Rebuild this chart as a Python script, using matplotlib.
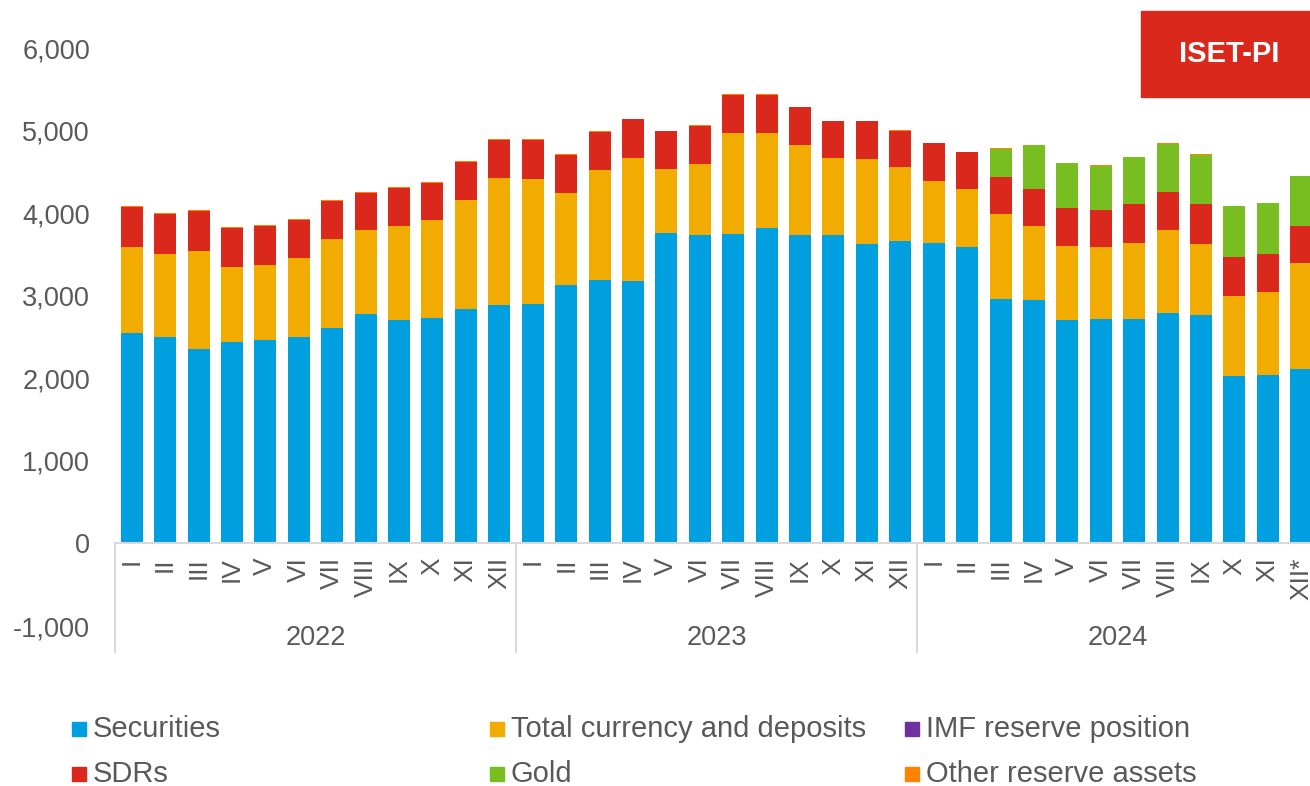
import matplotlib
matplotlib.use('Agg')
import matplotlib.pyplot as plt
from matplotlib.patches import Rectangle

# data (USD mn)
months = ['I', 'II', 'III', 'IV', 'V', 'VI', 'VII', 'VIII', 'IX', 'X', 'XI', 'XII',
          'I', 'II', 'III', 'IV', 'V', 'VI', 'VII', 'VIII', 'IX', 'X', 'XI', 'XII',
          'I', 'II', 'III', 'IV', 'V', 'VI', 'VII', 'VIII', 'IX', 'X', 'XI', 'XII*']
years = ['2022', '2023', '2024']

securities = [2550, 2500, 2355, 2440, 2465, 2505, 2610, 2775, 2705, 2735, 2840, 2890,
              2900, 3135, 3190, 3175, 3765, 3740, 3750, 3825, 3740, 3740, 3630, 3660,
              3640, 3590, 2960, 2950, 2710, 2720, 2720, 2795, 2770, 2030, 2035, 2115]
currency_deposits = [1035, 1010, 1185, 910, 905, 950, 1075, 1020, 1145, 1185, 1320, 1540,
                     1515, 1110, 1335, 1495, 775, 855, 1215, 1150, 1080, 925, 1025, 895,
                     745, 700, 1035, 890, 890, 865, 920, 995, 860, 965, 1015, 1280]
imf_position = [0, 0, 0, 0, 0, 0, 0, 0, 0, 0, 0, 0,
                0, 0, 0, 0, 0, 0, 0, 0, 0, 0, 0, 0,
                0, 0, 0, 0, 0, 0, 0, 0, 0, 0, 0, 0]
sdrs = [490, 485, 480, 470, 475, 460, 465, 455, 455, 450, 465, 460,
        470, 465, 460, 465, 455, 465, 470, 460, 460, 450, 460, 445,
        465, 450, 445, 450, 465, 455, 470, 470, 475, 470, 460, 450]
gold = [0, 0, 0, 0, 0, 0, 0, 0, 0, 0, 0, 0,
        0, 0, 0, 0, 0, 0, 0, 0, 0, 0, 0, 0,
        0, 0, 340, 530, 540, 535, 565, 580, 605, 625, 610, 600]
other_assets = [10, 10, 15, 10, 10, 15, 10, 10, 10, 10, 10, 10,
                10, 10, 10, 10, 5, 5, 5, 5, 5, 5, 5, 5,
                5, 5, 5, 5, 5, 5, 5, 5, 5, 0, 0, 0]

series = [securities, currency_deposits, imf_position, sdrs, gold, other_assets]
labels = ['Securities', 'Total currency and deposits', 'IMF reserve position',
          'SDRs', 'Gold', 'Other reserve assets']
colors = ['#009FDF', '#F2AB00', '#7030A0', '#DA291C', '#78BE20', '#FF8200']

txt = '#595959'
grey = '#D9D9D9'
plt.rcParams['font.family'] = ['Liberation Sans', 'DejaVu Sans']

W, H = 1310, 786
fig = plt.figure(figsize=(W / 100, H / 100), dpi=100)
ax = fig.add_axes([115 / W, 1 - 626 / H, 1203 / W, 578 / H])

x = list(range(len(months)))
bottom = [0] * len(months)
for vals, col in zip(series, colors):
    ax.bar(x, vals, width=0.66, bottom=bottom, color=col, linewidth=0)
    bottom = [b + v for b, v in zip(bottom, vals)]

ax.set_xlim(-0.5, len(months) - 0.5)
ax.set_ylim(-1000, 6000)
ax.set_yticks(range(-1000, 6001, 1000))
ax.set_yticklabels([f'{v:,}' for v in range(-1000, 6001, 1000)])
ax.tick_params(axis='y', length=0, pad=18, labelsize=19.5, labelcolor=txt)

ax.set_xticks(x)
ax.set_xticklabels(months)
ax.tick_params(axis='x', length=0, pad=10, labelsize=19, labelcolor=txt,
               labelrotation=90)
for lbl in ax.get_xticklabels():
    lbl.set_va('top')
    lbl.set_ha('center')

for s in ['top', 'right', 'left']:
    ax.spines[s].set_visible(False)
ax.spines['bottom'].set_position(('data', 0))
ax.spines['bottom'].set_color(grey)
ax.spines['bottom'].set_linewidth(1.5)

# year groups under the month labels
for i, yr in enumerate(years):
    ax.text(i * 12 + 5.5, -1140, yr, ha='center', va='center', fontsize=19.5, color=txt)
for i in range(len(years) + 1):
    ax.plot([i * 12 - 0.5, i * 12 - 0.5], [0, -1320], color=grey, lw=1.5, clip_on=False)

# legend, laid out row by row in three columns
col_x = [72, 490, 905]
row_y = [729, 774]
for k, (lab, col) in enumerate(zip(labels, colors)):
    cx = col_x[k % 3]
    cy = row_y[k // 3]
    fig.patches.append(Rectangle((cx / W, 1 - (cy + 7) / H), 14 / W, 14 / H,
                                 transform=fig.transFigure, color=col))
    fig.text((cx + 21) / W, 1 - cy / H, lab, ha='left', va='center',
             fontsize=21, color=txt)

# badge
fig.patches.append(Rectangle((1141 / W, 1 - 97 / H), 169 / W, 86 / H,
                             transform=fig.transFigure, color='#DA291C'))
fig.text(1229 / W, 1 - 54 / H, 'ISET-PI', ha='center', va='center',
         fontsize=21, fontweight='bold', color='white')

plt.savefig('out.png', dpi=100)
